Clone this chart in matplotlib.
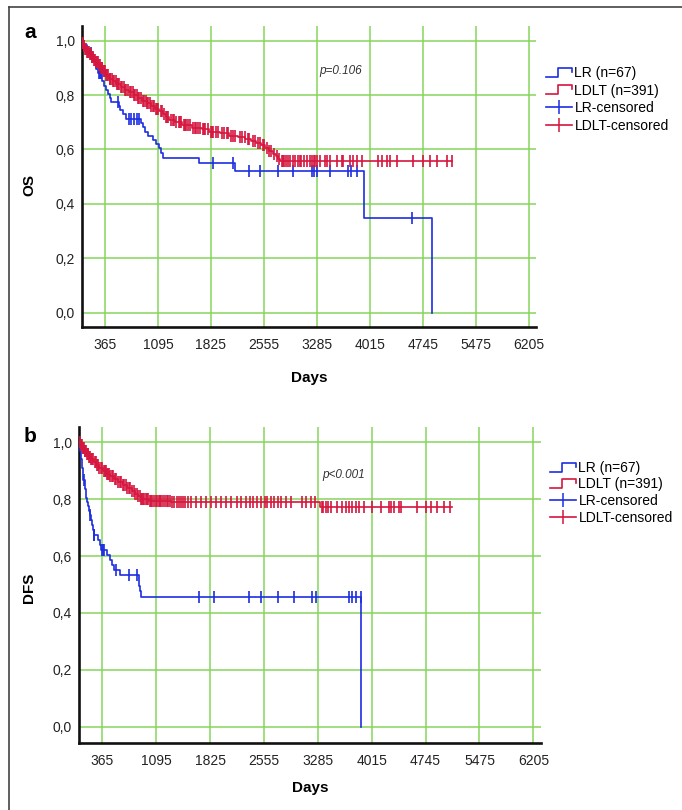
import numpy as np
import matplotlib.pyplot as plt
from matplotlib.lines import Line2D
from matplotlib.legend_handler import HandlerLine2D


# ---- 1. Values ----
# Panel a: overall survival (OS), event times (days) and survival after each step
os_lr_t = [60, 120, 160, 200, 240, 265, 320, 350, 375, 400, 430, 450, 560, 575,
           610, 650, 860, 890, 915, 960, 1030, 1070, 1110, 1140, 1170, 1665,
           2157, 3935, 4868]
os_lr_s = [0.985, 0.970, 0.955, 0.925, 0.895, 0.880, 0.850, 0.835, 0.820, 0.805,
           0.790, 0.776, 0.760, 0.745, 0.729, 0.713, 0.697, 0.681, 0.665, 0.650,
           0.635, 0.620, 0.604, 0.586, 0.568, 0.549, 0.521, 0.347, 0.0]
os_lr_cens = [176, 285, 300, 310, 545, 690, 720, 760, 800, 840, 1854, 2130, 2354,
              2502, 2746, 2953, 3218, 3246, 3290, 3467, 3719, 3752, 3835, 4593]
os_lr_end = 4868

os_ldlt_t = [30, 60, 90, 120, 150, 180, 210, 240, 270, 300, 340, 380, 420, 470,
             520, 580, 640, 700, 760, 820, 880, 940, 1000, 1060, 1110, 1160, 1200,
             1250, 1330, 1420, 1560, 1700, 1800, 1950, 2080, 2200, 2300, 2380,
             2450, 2520, 2570, 2620, 2680, 2720, 2750, 2780]
os_ldlt_s = [0.99, 0.98, 0.97, 0.96, 0.95, 0.94, 0.93, 0.92, 0.91, 0.90, 0.89,
             0.875, 0.86, 0.85, 0.84, 0.83, 0.82, 0.81, 0.80, 0.79, 0.78, 0.77,
             0.76, 0.75, 0.74, 0.73, 0.72, 0.71, 0.70, 0.69, 0.68, 0.675, 0.665,
             0.66, 0.65, 0.645, 0.64, 0.63, 0.625, 0.615, 0.605, 0.595, 0.585,
             0.575, 0.565, 0.557]
os_ldlt_cens = [25, 35, 45, 58, 70, 82, 95, 110, 122, 130, 142, 155, 170, 182,
                190, 203, 215, 230, 242, 250, 265, 280, 295, 310, 322, 330, 345,
                355, 370, 385, 395, 410, 428, 440, 460, 478, 490, 510, 528, 540,
                560, 585, 600, 620, 645, 660, 680, 705, 720, 745, 765, 780, 800,
                825, 840, 860, 885, 900, 925, 945, 960, 985, 1005, 1020, 1045,
                1065, 1080, 1100, 1130, 1150, 1180, 1205, 1220, 1240, 1270, 1300,
                1320, 1350, 1380, 1395, 1410, 1450, 1465, 1480, 1510, 1540, 1580,
                1610, 1625, 1640, 1680, 1720, 1735, 1750, 1780, 1830, 1845, 1860,
                1890, 1920, 1980, 2010, 2040, 2060, 2100, 2130, 2160, 2230, 2260,
                2290, 2330, 2350, 2400, 2430, 2480, 2500, 2540, 2560, 2600, 2630,
                2650, 2700, 2740, 2760, 2801, 2815, 2830, 2860, 2890, 2915, 2950,
                2984, 3020, 3053, 3070, 3108, 3150, 3191, 3220, 3246, 3260, 3283,
                3329, 3398, 3430, 3467, 3559, 3628, 3650, 3742, 3788, 3835, 3904,
                4132, 4179, 4248, 4294, 4386, 4615, 4753, 4845, 4937, 5075, 5148]
os_ldlt_end = 5148

# Panel b: disease-free survival (DFS)
dfs_lr_t = [62, 68, 74, 80, 86, 92, 98, 104, 108, 125, 132, 138, 145, 160, 175,
            185, 195, 212, 222, 235, 245, 300, 330, 345, 430, 470, 500, 520, 600,
            855, 862, 880, 893, 3873]
dfs_lr_s = [0.985, 0.970, 0.955, 0.940, 0.925, 0.910, 0.895, 0.880, 0.866, 0.851,
            0.836, 0.821, 0.806, 0.790, 0.775, 0.760, 0.744, 0.728, 0.710, 0.692,
            0.674, 0.656, 0.638, 0.621, 0.603, 0.586, 0.568, 0.551, 0.533, 0.514,
            0.495, 0.476, 0.455, 0.0]
dfs_lr_cens = [112, 202, 247, 255, 355, 370, 382, 545, 721, 834, 1672, 1877, 2351,
               2509, 2749, 2966, 3209, 3254, 3705, 3751, 3796, 3864]
dfs_lr_end = 3873

dfs_ldlt_t = [70, 95, 120, 150, 180, 210, 245, 280, 320, 370, 420, 470, 520, 570,
              640, 700, 760, 810, 850, 885, 1000, 1300, 3313]
dfs_ldlt_s = [0.99, 0.98, 0.97, 0.96, 0.95, 0.94, 0.93, 0.92, 0.91, 0.90, 0.89,
              0.88, 0.87, 0.86, 0.85, 0.84, 0.83, 0.82, 0.81, 0.80, 0.795, 0.79,
              0.771]
dfs_ldlt_cens = [65, 72, 80, 90, 100, 108, 115, 125, 135, 148, 160, 168, 175, 185,
                 195, 210, 225, 240, 260, 275, 295, 310, 325, 345, 360, 390, 400,
                 410, 425, 440, 455, 470, 490, 510, 540, 555, 575, 600, 620, 640,
                 660, 680, 700, 720, 740, 765, 790, 810, 830, 850, 870, 885, 900,
                 920, 935, 950, 965, 980, 1010, 1025, 1040, 1070, 1085, 1100, 1130,
                 1145, 1160, 1190, 1220, 1235, 1250, 1280, 1310, 1340, 1370, 1400,
                 1430, 1460, 1490, 1520, 1561, 1629, 1696, 1764, 1832, 1900, 1967,
                 2035, 2103, 2193, 2238, 2306, 2364, 2410, 2455, 2509, 2563, 2600,
                 2644, 2689, 2743, 2780, 2848, 2915, 3074, 3118, 3186, 3240, 3345,
                 3360, 3389, 3421, 3457, 3548, 3615, 3660, 3705, 3751, 3796, 3840,
                 3908, 4021, 4134, 4247, 4270, 4314, 4382, 4405, 4631, 4744, 4812,
                 4902, 4992, 5082]
dfs_ldlt_end = 5106

x_ticks = [365, 1095, 1825, 2555, 3285, 4015, 4745, 5475, 6205]
y_ticks = [0.0, 0.2, 0.4, 0.6, 0.8, 1.0]
y_ticklabels = ["0,0", "0,2", "0,4", "0,6", "0,8", "1,0"]
legend_labels = ["LR (n=67)", "LDLT (n=391)", "LR-censored", "LDLT-censored"]
p_values = ["p=0.106", "p<0.001"]

BLUE = "#1c2ee0"
RED = "#d6163f"
GRID = "#86d45c"
NARROW = ["Liberation Sans Narrow", "Liberation Sans", "DejaVu Sans"]
SANS = ["Liberation Sans", "DejaVu Sans"]


# ---- 2. Helpers ----
class StepHandler(HandlerLine2D):
    """Legend icon shaped like a small KM step."""
    def create_artists(self, legend, orig_handle, xdescent, ydescent,
                       width, height, fontsize, trans):
        x0 = -xdescent
        y0 = -ydescent + height * 0.05
        y1 = -ydescent + height * 0.95
        xs = [x0, x0 + width * 0.48, x0 + width * 0.48, x0 + width, x0 + width]
        ys = [y0, y0, y1, y1, y1 - (y1 - y0) * 0.45]
        line = Line2D(xs, ys, color=orig_handle.get_color(),
                      lw=orig_handle.get_linewidth(), transform=trans)
        return [line]


def km_curve(ax, times, surv, cens, end, color):
    xs = [0] + list(times) + [end]
    ys = [1.0] + list(surv) + [surv[-1]]
    ax.step(xs, ys, where="post", color=color, lw=1.2, zorder=3)
    # censor ticks sit on the curve
    idx = np.searchsorted(xs, cens, side="right") - 1
    cy = np.array(ys)[idx]
    ax.plot(cens, cy, ls="none", marker="|", ms=8, mew=1.2,
            color=color, zorder=4)


def style_axes(ax, ylim):
    ax.set_xlim(48, 6305)
    ax.set_ylim(*ylim)
    ax.set_xticks(x_ticks)
    ax.set_yticks(y_ticks)
    ax.set_yticklabels(y_ticklabels)
    for lab in ax.get_xticklabels() + ax.get_yticklabels():
        lab.set_family(NARROW)
        lab.set_fontsize(10)
        lab.set_color("#222222")
    ax.tick_params(axis="x", length=0, pad=8)
    ax.tick_params(axis="y", length=0, pad=5)
    ax.grid(True, color=GRID, lw=1.1)
    ax.set_axisbelow(True)
    for side in ("top", "right"):
        ax.spines[side].set_visible(False)
    for side in ("left", "bottom"):
        ax.spines[side].set_linewidth(1.9)
        ax.spines[side].set_color("#111111")


def add_legend(ax, fig, left_px, top_px, spacing):
    handles = [
        Line2D([], [], color=BLUE, lw=1.2),
        Line2D([], [], color=RED, lw=1.2),
        Line2D([], [], color=BLUE, lw=1.2, marker="|", ms=10, mew=1.1),
        Line2D([], [], color=RED, lw=1.2, marker="|", ms=10, mew=1.1),
    ]
    W, H = fig.get_size_inches() * fig.dpi
    ax.legend(handles, legend_labels, loc="upper left",
              bbox_to_anchor=(left_px / W, 1 - top_px / H),
              bbox_transform=fig.transFigure, frameon=False,
              borderpad=0, borderaxespad=0, handlelength=1.85,
              handletextpad=0.2, labelspacing=spacing,
              prop={"family": SANS, "size": 10},
              handler_map={handles[0]: StepHandler(), handles[1]: StepHandler()})


# ---- 3. Figure ----
fig = plt.figure(figsize=(6.82, 8.10), dpi=100)
W, H = 682, 810

# panel rectangles measured in pixels: left, right, top, bottom
ax_a = fig.add_axes([82 / W, 1 - 327 / H, (536 - 82) / W, (327 - 26) / H])
ax_b = fig.add_axes([79 / W, 1 - 742.7 / H, (540.7 - 79) / W, (742.7 - 426.7) / H])

km_curve(ax_a, os_lr_t, os_lr_s, os_lr_cens, os_lr_end, BLUE)
km_curve(ax_a, os_ldlt_t, os_ldlt_s, os_ldlt_cens, os_ldlt_end, RED)
style_axes(ax_a, (-0.0526, 1.054))

km_curve(ax_b, dfs_lr_t, dfs_lr_s, dfs_lr_cens, dfs_lr_end, BLUE)
km_curve(ax_b, dfs_ldlt_t, dfs_ldlt_s, dfs_ldlt_cens, dfs_ldlt_end, RED)
style_axes(ax_b, (-0.0563, 1.055))

add_legend(ax_a, fig, 546, 66, 0.26)
add_legend(ax_b, fig, 550, 461, 0.18)

# p-values
fig.text(319 / W, 1 - 71 / H, p_values[0], fontsize=8.5, style="italic",
         family=SANS, color="#333333", va="center")
fig.text(322 / W, 1 - 475 / H, p_values[1], fontsize=8.5, style="italic",
         family=SANS, color="#333333", va="center")

# panel letters and axis titles
fig.text(30 / W, 1 - 33 / H, "a", fontsize=15, weight="bold", family=SANS,
         ha="center", va="center")
fig.text(30 / W, 1 - 436 / H, "b", fontsize=15, weight="bold", family=SANS,
         ha="center", va="center")
fig.text(29 / W, 1 - 185 / H, "OS", fontsize=11, weight="bold", family=SANS,
         rotation=90, ha="center", va="center")
fig.text(29 / W, 1 - 588 / H, "DFS", fontsize=11, weight="bold", family=SANS,
         rotation=90, ha="center", va="center")
fig.text(309 / W, 1 - 378 / H, "Days", fontsize=11, weight="bold",
         family=NARROW, ha="center", va="center")
fig.text(310 / W, 1 - 788 / H, "Days", fontsize=11, weight="bold",
         family=NARROW, ha="center", va="center")

# frame lines along top and left edge
fig.add_artist(Line2D([9 / W, 1], [1 - 7 / H, 1 - 7 / H],
                      transform=fig.transFigure, color="#444444", lw=1.2))
fig.add_artist(Line2D([9 / W, 9 / W], [0, 1 - 7 / H],
                      transform=fig.transFigure, color="#444444", lw=1.2))

fig.savefig("out.png", dpi=100)
